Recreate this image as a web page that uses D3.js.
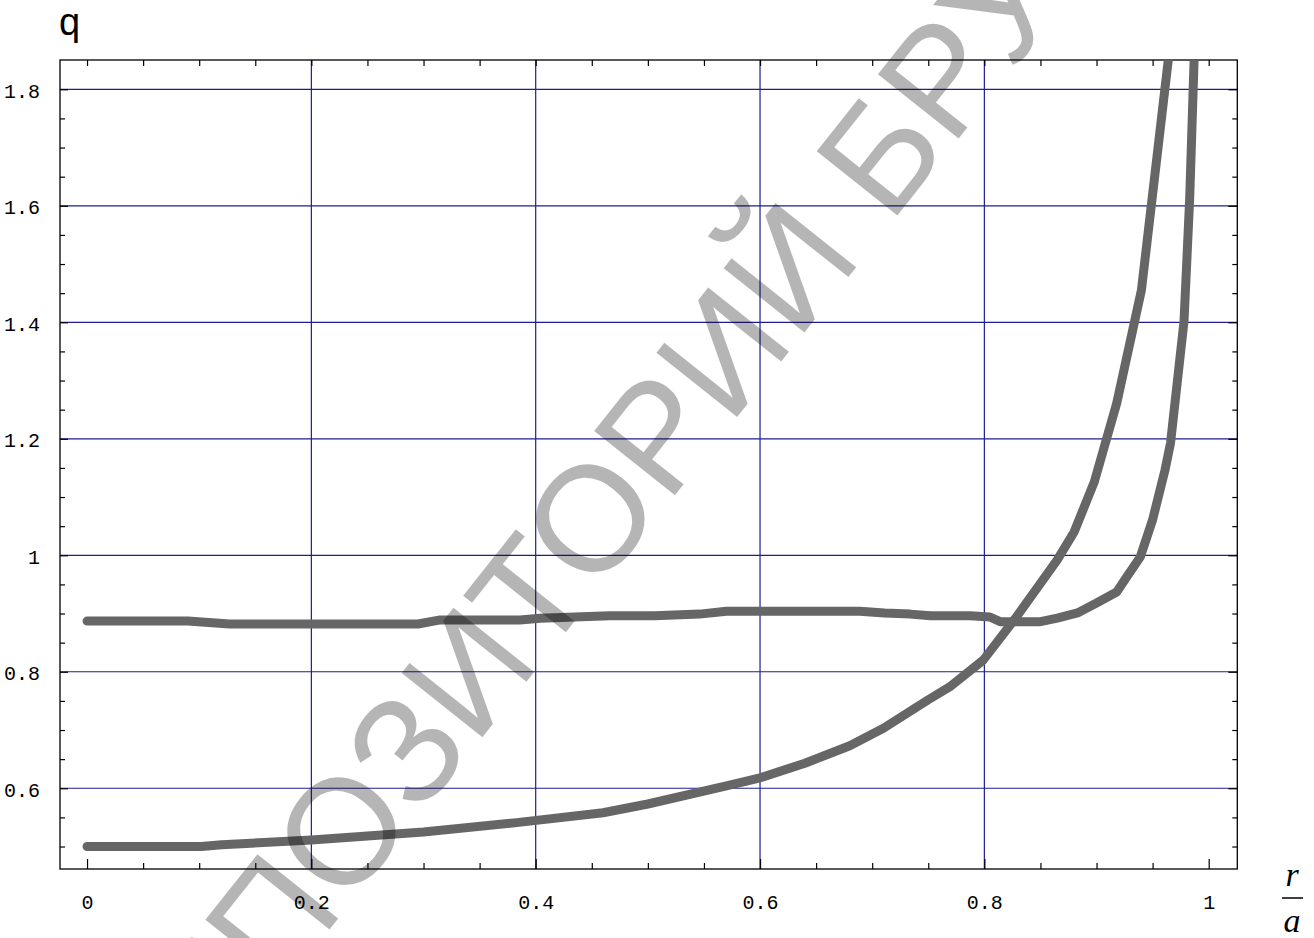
<!DOCTYPE html>
<html>
<head>
<meta charset="utf-8">
<script src="https://cdn.jsdelivr.net/npm/d3@7"></script>
<style>
  html, body { margin: 0; padding: 0; background: #fff; }
  svg { display: block; }
</style>
</head>
<body>
<svg id="chart" width="1314" height="938"></svg>
<script>
// ---- data ----
const curve1X = [0, 0.102, 0.12, 0.2, 0.3, 0.383, 0.46, 0.5, 0.57, 0.6, 0.64, 0.68, 0.71, 0.75, 0.769, 0.799, 0.827, 0.865, 0.88, 0.898, 0.918, 0.940, 0.97];
const curve1Q = [0.5, 0.5, 0.503, 0.511, 0.525, 0.541, 0.558, 0.573, 0.604, 0.618, 0.643, 0.673, 0.703, 0.752, 0.774, 0.820, 0.890, 0.992, 1.04, 1.126, 1.261, 1.455, 1.95];

const curve2X = [0, 0.09, 0.127, 0.295, 0.315, 0.386, 0.404, 0.466, 0.506, 0.546, 0.570, 0.689, 0.711, 0.734, 0.752, 0.787, 0.805, 0.814, 0.850, 0.865, 0.883, 0.900, 0.918, 0.927, 0.939, 0.950, 0.961, 0.966, 0.978, 0.983, 0.987, 0.988];
const curve2Q = [0.887, 0.887, 0.882, 0.882, 0.889, 0.889, 0.892, 0.896, 0.896, 0.899, 0.904, 0.904, 0.901, 0.899, 0.896, 0.896, 0.894, 0.886, 0.886, 0.892, 0.901, 0.918, 0.937, 0.963, 0.997, 1.061, 1.146, 1.193, 1.402, 1.610, 1.851, 1.95];

const xTickValues = [0, 0.2, 0.4, 0.6, 0.8, 1];
const xTickLabels = ["0", "0.2", "0.4", "0.6", "0.8", "1"];
const yTickValues = [0.6, 0.8, 1, 1.2, 1.4, 1.6, 1.8];
const yTickLabels = ["0.6", "0.8", "1", "1.2", "1.4", "1.6", "1.8"];
const xMinorTicks = d3.range(0, 21).map(i => i * 0.05);
const yMinorTicks = d3.range(10, 37).map(i => i * 0.05);
const yAxisTitle = "q";
const xAxisNum = "r";
const xAxisDen = "a";
const watermarkText = "РЕПОЗИТОРИЙ БРУ";

// ---- layout ----
const L = 60, R = 1237.3, T = 60, B = 869;
const svg = d3.select("#chart");
const x = d3.scaleLinear().domain([-0.0241, 1.0255]).range([L, R]);
const y = d3.scaleLinear().domain([0.4614, 1.8503]).range([B, T]);

svg.append("defs").append("clipPath").attr("id", "plotClip")
  .append("rect").attr("x", L).attr("y", T).attr("width", R - L).attr("height", B - T);

// grid
const gridColor = "#1e1e90";
svg.append("g").selectAll("line").data(xTickValues.filter(v => v > 0 && v < 1)).join("line")
  .attr("x1", d => x(d)).attr("x2", d => x(d)).attr("y1", T).attr("y2", B)
  .attr("stroke", gridColor).attr("stroke-width", 1.2);
svg.append("g").selectAll("line").data(yTickValues).join("line")
  .attr("x1", L).attr("x2", R).attr("y1", d => y(d)).attr("y2", d => y(d))
  .attr("stroke", gridColor).attr("stroke-width", 1.2);

function isMajorX(v) { return xTickValues.some(t => Math.abs(t - v) < 1e-6); }
function isMajorY(v) { return yTickValues.some(t => Math.abs(t - v) < 1e-6); }

const axisFont = "'Liberation Mono', 'Courier New', monospace";

// bottom: labels + major ticks
const bottom = svg.append("g").attr("transform", `translate(0,${B})`)
  .call(d3.axisBottom(x).tickValues(xTickValues).tickFormat((d, i) => xTickLabels[i]).tickSize(-10).tickPadding(26));
bottom.select(".domain").remove();
bottom.selectAll("text").attr("font-family", axisFont).attr("font-size", 20).attr("fill", "#000");
svg.append("g").attr("transform", `translate(0,${B})`)
  .call(d3.axisBottom(x).tickValues(xMinorTicks.filter(v => !isMajorX(v))).tickSize(-6).tickFormat(""))
  .select(".domain").remove();
// top ticks
svg.append("g").attr("transform", `translate(0,${T})`)
  .call(d3.axisTop(x).tickValues(xMinorTicks).tickSize(-6).tickFormat(""))
  .select(".domain").remove();

// left: labels + major ticks
const left = svg.append("g").attr("transform", `translate(${L},0)`)
  .call(d3.axisLeft(y).tickValues(yTickValues).tickFormat((d, i) => yTickLabels[i]).tickSize(-8).tickPadding(20));
left.select(".domain").remove();
left.selectAll("text").attr("font-family", axisFont).attr("font-size", 20).attr("fill", "#000").attr("dy", "0.4em");
svg.append("g").attr("transform", `translate(${L},0)`)
  .call(d3.axisLeft(y).tickValues(yMinorTicks.filter(v => !isMajorY(v))).tickSize(-5).tickFormat(""))
  .select(".domain").remove();
// right ticks
svg.append("g").attr("transform", `translate(${R},0)`)
  .call(d3.axisRight(y).tickValues(yTickValues).tickSize(-9).tickFormat(""))
  .select(".domain").remove();
svg.append("g").attr("transform", `translate(${R},0)`)
  .call(d3.axisRight(y).tickValues(yMinorTicks.filter(v => !isMajorY(v))).tickSize(-5).tickFormat(""))
  .select(".domain").remove();

svg.selectAll(".tick line").attr("stroke", "#000").attr("stroke-width", 1.2);

// frame
svg.append("rect").attr("x", L).attr("y", T).attr("width", R - L).attr("height", B - T)
  .attr("fill", "none").attr("stroke", "#000").attr("stroke-width", 1.3);

// curves
const line = d3.line().x(d => x(d[0])).y(d => y(d[1]));
const curves = [
  d3.zip(curve1X, curve1Q),
  d3.zip(curve2X, curve2Q)
];
svg.append("g").attr("clip-path", "url(#plotClip)")
  .selectAll("path").data(curves).join("path")
  .attr("d", line)
  .attr("fill", "none").attr("stroke", "#666666").attr("stroke-width", 9)
  .attr("stroke-linecap", "round").attr("stroke-linejoin", "round");

// axis titles
svg.append("text").attr("x", 59).attr("y", 35)
  .attr("font-family", "'Liberation Sans', Arial, sans-serif").attr("font-size", 38)
  .attr("fill", "#000").text(yAxisTitle);

const fracX = 1292;
svg.append("text").attr("x", fracX).attr("y", 886).attr("text-anchor", "middle")
  .attr("font-family", "'Liberation Serif', 'Times New Roman', serif").attr("font-style", "italic")
  .attr("font-size", 34).attr("fill", "#000").text(xAxisNum);
svg.append("line").attr("x1", 1282).attr("x2", 1303).attr("y1", 898).attr("y2", 898)
  .attr("stroke", "#000").attr("stroke-width", 1.5);
svg.append("text").attr("x", fracX).attr("y", 932).attr("text-anchor", "middle")
  .attr("font-family", "'Liberation Serif', 'Times New Roman', serif").attr("font-style", "italic")
  .attr("font-size", 34).attr("fill", "#000").text(xAxisDen);

// watermark
svg.append("text")
  .attr("transform", "translate(154,1150) rotate(-51.5)")
  .attr("font-family", "'Liberation Sans', Arial, sans-serif").attr("font-size", 150)
  .attr("fill", "#000").attr("fill-opacity", 0.29)
  .text(watermarkText);
</script>
</body>
</html>
